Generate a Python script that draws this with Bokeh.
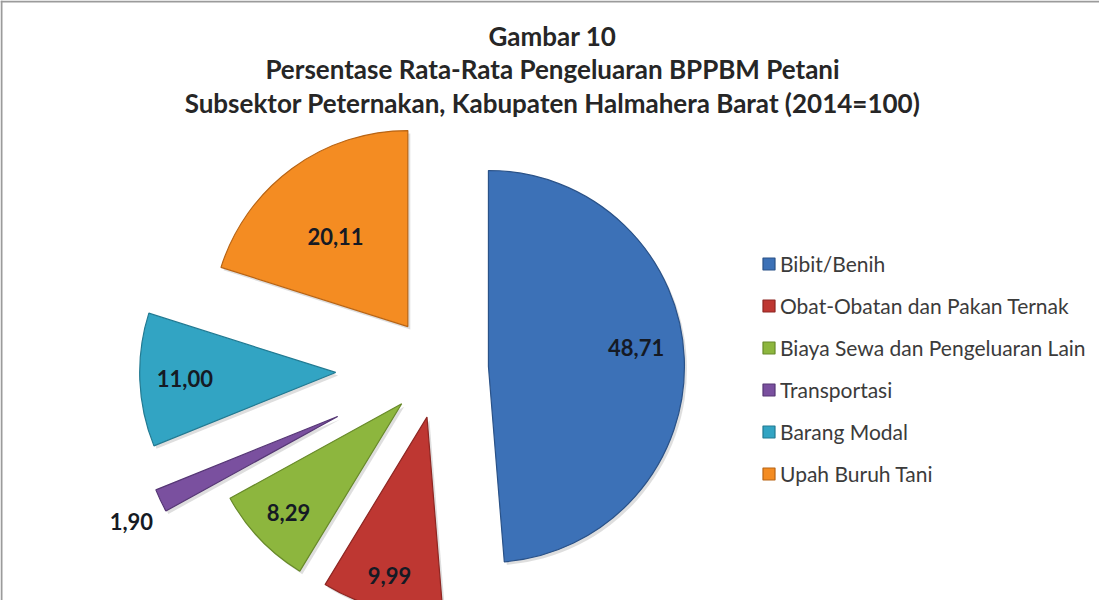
import numpy as np
from bokeh.plotting import figure
from bokeh.models import Range1d, Label, Span, Legend, LegendItem, ColumnDataSource
from bokeh.core.properties import value
from bokeh.embed import file_html
from bokeh.resources import INLINE

# ---------------- data ----------------
categories = [
    "Bibit/Benih",
    "Obat-Obatan dan Pakan Ternak",
    "Biaya Sewa dan Pengeluaran Lain",
    "Transportasi",
    "Barang Modal",
    "Upah Buruh Tani",
]
values = [48.71, 9.99, 8.29, 1.90, 11.00, 20.11]
title_lines = [
    "Gambar 10",
    "Persentase Rata-Rata Pengeluaran BPPBM Petani",
    "Subsektor Peternakan, Kabupaten Halmahera Barat (2014=100)",
]

# ---------------- style ----------------
colors = ["#3c71b7", "#be3732", "#8db63e", "#7a509f", "#32a4c3", "#f48c22"]
edge_colors = ["#2a5288", "#8e2622", "#688a2a", "#563775", "#227a92", "#b86414"]
explode = [0.255, 0.255, 0.26, 0.57, 0.525, 0.265]
label_frac = [0.76, 0.83, 0.80, 1.18, 0.77, 0.59]
label_dtheta_deg = [-5, 0, 0, -1.5, 0, -2.5]

W, H = 1099, 600
X0, Y0 = 8, 8
CX, CY, R = 446, -376, 196

p = figure(width=W, height=H,
           x_range=Range1d(X0, X0 + W), y_range=Range1d(-(Y0 + H), -Y0),
           output_backend="svg", toolbar_location=None, min_border=0)
p.axis.visible = False
p.grid.visible = False
p.outline_line_color = None
p.background_fill_color = "white"
p.border_fill_color = "white"

vals = np.array(values, dtype=float)
frac = vals / vals.sum()
ends = np.cumsum(frac) * 2 * np.pi          # clockwise from 12 o'clock
starts = ends - frac * 2 * np.pi
mid = (starts + ends) / 2
ex = np.array(explode)
cx = CX + ex * R * np.sin(mid)
cy = CY + ex * R * np.cos(mid)

src = ColumnDataSource(dict(
    x=cx, y=cy, start=np.pi / 2 - ends, end=np.pi / 2 - starts,
    color=colors, edge=edge_colors, cat=categories,
    sx=cx + 2.5, sy=cy - 3.0,
))

# soft shadow
p.wedge(x="sx", y="sy", radius=R, start_angle="start", end_angle="end",
        direction="anticlock", source=src, fill_color="#8a8a8a",
        fill_alpha=0.28, line_color=None)
# slices
wr = p.wedge(x="x", y="y", radius=R, start_angle="start", end_angle="end",
             direction="anticlock", source=src, fill_color="color",
             line_color="edge", line_width=1.2)

# data labels
lab_ang = mid + np.radians(label_dtheta_deg)
lf = np.array(label_frac)
lx = cx + lf * R * np.sin(lab_ang)
ly = cy + lf * R * np.cos(lab_ang)
lab_text = [f"{v:.2f}".replace(".", ",") for v in values]
p.text(x=lx, y=ly, text=lab_text, text_font=value("Lato"),
       text_font_style="bold", text_font_size="22px", text_align="center",
       text_baseline="middle", text_color="#151a24")

# title
for i, t in enumerate(title_lines):
    p.add_layout(Label(x=560, y=-(43 + 33.5 * i), text=t, text_align="center",
                       text_baseline="middle", text_font="Lato",
                       text_font_style="bold", text_font_size="26px",
                       text_color="#262626"))

# frame lines (top and left)
p.add_layout(Span(location=X0 + 1, dimension="height", line_color="#9b9b9b", line_width=2))
p.add_layout(Span(location=-(Y0 + 1), dimension="width", line_color="#9b9b9b", line_width=2))

# legend
items = [LegendItem(label=c, renderers=[wr], index=i) for i, c in enumerate(categories)]
legend = Legend(items=items, location=(761, 114), orientation="vertical",
                glyph_width=15, glyph_height=15, label_height=24, spacing=17,
                padding=0, margin=0, border_line_color=None,
                background_fill_alpha=0, label_text_font="Lato",
                label_text_font_size="21px", label_text_color="#3b3b3b",
                label_standoff=4)
p.add_layout(legend)

open("out.html", "w").write(file_html(p, INLINE))
